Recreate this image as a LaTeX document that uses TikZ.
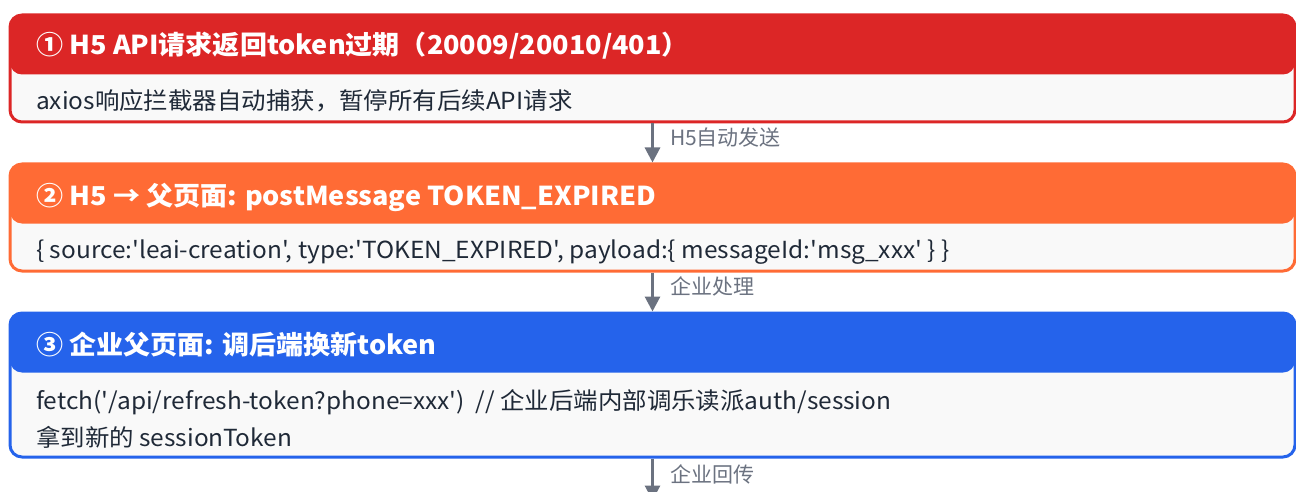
\documentclass[tikz,border=0pt]{standalone}
\usepackage{fontspec}
\newfontfamily\cjk{Noto Sans CJK SC}
\newfontfamily\cjkwide{Noto Sans CJK SC}[FakeStretch=1.04]
\usetikzlibrary{arrows.meta}
\definecolor{cred}{HTML}{DC2626}
\definecolor{corange}{HTML}{FF6B35}
\definecolor{cblue}{HTML}{2563EB}
\definecolor{bodybg}{HTML}{F9F9F9}
\definecolor{arrowgrey}{HTML}{6B7280}
\definecolor{bodytext}{HTML}{1F2937}
\tikzset{
  stepframe/.style={draw=#1, fill=bodybg, line width=3pt, rounded corners=12pt,
    anchor=north west, minimum width=1285pt, inner sep=0pt,
    path picture={\fill[#1] (path picture bounding box.north west) rectangle
      ([yshift=-59.5pt]path picture bounding box.north east);}},
  titletext/.style={anchor=base west, inner sep=0pt, text=white,
    font=\cjkwide\bfseries\fontsize{26}{30}\selectfont},
  bodytxt/.style={anchor=base west, inner sep=0pt, text=bodytext,
    font=\cjkwide\fontsize{23.5}{28}\selectfont},
  flowarrow/.style={draw=arrowgrey, line width=3pt,
    -{Triangle[length=15pt,width=15pt]}},
  lbl/.style={anchor=west, inner sep=0pt, text=arrowgrey, xshift=16pt,
    font=\cjk\fontsize{21}{25}\selectfont},
}
\begin{document}
\begin{tikzpicture}[x=1pt,y=-1pt]
\useasboundingbox (0,0) rectangle (1296,492);
% boxes
\node[stepframe=cred, minimum height=107pt] (box1) at (8.5,13.5) {};
\node[stepframe=corange, minimum height=107pt] (box2) at (8.5,162.5) {};
\node[stepframe=cblue, minimum height=144pt] (box3) at (8.5,311.5) {};
\coordinate (end3) at ([yshift=-42pt]box3.south);
% arrows
\draw[flowarrow] (box1.south) -- node[lbl, pos=0.36] {H5自动发送} (box2.north);
\draw[flowarrow] (box2.south) -- node[lbl, pos=0.37] {企业处理} (box3.north);
\draw[flowarrow] (box3.south) -- node[lbl, pos=0.37] {企业回传} (end3);
% texts
\node[titletext] (t1) at (36,55) {① H5 API请求返回token过期（20009/20010/401）};
\node[bodytxt] (d1) at (36,110) {axios响应拦截器自动捕获，暂停所有后续API请求};
\node[titletext] (t2) at (36,205) {② H5 → 父页面: postMessage TOKEN\_EXPIRED};
\node[bodytxt] (d2) at (36,258) {\{ source:'leai-creation', type:'TOKEN\_EXPIRED', payload:\{ messageId:'msg\_xxx' \} \}};
\node[titletext] (t3) at (36,354) {③ 企业父页面: 调后端换新token};
\node[bodytxt] (d3a) at (36,409) {fetch('/api/refresh-token?phone=xxx')\ \ // 企业后端内部调乐读派auth/session};
\node[bodytxt] (d3b) at (36,446) {拿到新的 sessionToken};
\end{tikzpicture}
\end{document}
